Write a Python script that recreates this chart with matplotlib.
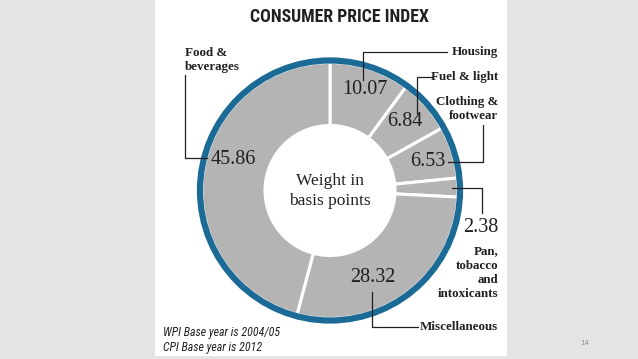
import matplotlib.pyplot as plt
from matplotlib.patches import Circle, Rectangle

# CPI weights (basis points), clockwise from 12 o'clock
categories = ['Housing', 'Fuel & light', 'Clothing &\nfootwear',
              'Pan,\ntobacco\nand\nintoxicants', 'Miscellaneous', 'Food &\nbeverages']
weights = [10.07, 6.84, 6.53, 2.38, 28.32, 45.86]
value_labels = ['10.07', '6.84', '6.53', '2.38', '28.32', '45.86']

title = 'CONSUMER PRICE INDEX'
centre_text = 'Weight in\nbasis points'
footnote = 'WPI Base year is 2004/05\nCPI Base year is 2012'

# colours
slide_bg = '#e4e4e4'
wedge_grey = '#b4b4b4'
ring_blue = '#1b6b96'
ink = '#231f20'

W, H = 638, 359
fig = plt.figure(figsize=(W / 100, H / 100), dpi=100, facecolor=slide_bg)
ax = fig.add_axes([0, 0, 1, 1])

# white panel holding the infographic
ax.add_patch(Rectangle((155, 0), 352, 356, facecolor='white', edgecolor='none', zorder=0))

cx, cy = 330, 190.5
# y axis is inverted (pixel coords), so startangle=-90 is the top
# and counterclock=True runs clockwise on screen
ax.pie(weights, startangle=-90, counterclock=True, radius=128, center=(cx, cy),
       colors=[wedge_grey] * len(weights),
       wedgeprops=dict(width=63, edgecolor='white', linewidth=2.2))
ax.add_patch(Circle((cx, cy), 130, fill=False, edgecolor=ring_blue, linewidth=4.5, zorder=5))

ax.set_xlim(0, W)
ax.set_ylim(H, 0)
ax.set_aspect('auto')
ax.axis('off')

serif = ['Liberation Serif', 'DejaVu Serif']
narrow = ['Roboto Condensed', 'DejaVu Sans']

ax.text(340, 17, title, ha='center', va='center', fontsize=12.8, fontweight='bold',
        family=narrow, fontstretch='condensed', color=ink)

# leader lines (pixel coords)
leaders = [
    [(447, 52), (363, 52), (363, 80)],
    [(432, 77), (417, 77), (417, 113)],
    [(483, 125), (483, 162), (448, 162)],
    [(452, 188), (482, 188), (482, 213)],
    [(372, 292), (372, 327), (418, 327)],
    [(185, 75), (185, 158), (207, 158)],
]
for pts in leaders:
    xs, ys = zip(*pts)
    ax.plot(xs, ys, color=ink, lw=0.9, zorder=6)

# category labels
cat_pos = [(498, 52, 'right'), (498, 77, 'right'), (498, 109, 'right'),
           (498, 273, 'right'), (498, 327, 'right'), (185, 60, 'left')]
for name, (x, y, ha) in zip(categories, cat_pos):
    ax.text(x, y, name, ha=ha, va='center', multialignment=ha, fontsize=9.4,
            fontweight='bold', family=serif, color=ink, linespacing=1.25, zorder=7)

# value labels
val_pos = [(365, 90, 'center'), (405, 122, 'center'), (428, 162, 'center'),
           (498, 228, 'right'), (373, 278, 'center'), (233, 160, 'center')]
for txt, (x, y, ha) in zip(value_labels, val_pos):
    ax.text(x, y, txt, ha=ha, va='center', fontsize=14.5, family=serif, color=ink, zorder=7)

ax.text(cx, 191, centre_text, ha='center', va='center', fontsize=12.5, family=serif,
        color=ink, linespacing=1.3)

ax.text(163, 340, footnote, ha='left', va='center', fontsize=8.6, style='italic',
        family=narrow, fontstretch='condensed', color=ink, linespacing=1.2)

ax.text(585, 343, '14', ha='center', va='center', fontsize=5, color='#8a8a8a')

fig.savefig('out.png', dpi=100, facecolor=slide_bg)
